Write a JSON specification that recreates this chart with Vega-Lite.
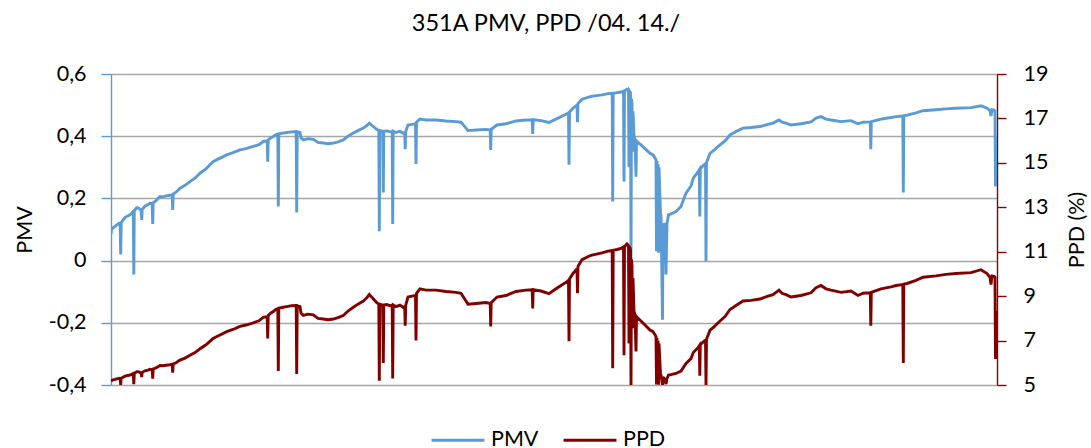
{
"$schema": "https://vega.github.io/schema/vega-lite/v6.json",
"width": 886, "height": 311,
"autosize": {"type": "none"},
"padding": {"left": 111, "top": 74, "right": 94, "bottom": 63},
"background": "white",
"config": {"font": "Lato", "view": {"stroke": null}},
"title": {"text": "351A PMV, PPD /04. 14./", "font": "Lato", "fontSize": 23.5, "fontWeight": "normal", "color": "#000000", "anchor": "middle", "baseline": "alphabetic", "offset": 9, "dx": -8},
"data": {"values": [
{"i":0,"pmv":0.085,"ppd":5.15},{"i":0.5,"pmv":0.10,"ppd":5.21},{"i":2,"pmv":0.105,"ppd":5.23},{"i":4,"pmv":0.11,"ppd":5.25},{"i":6,"pmv":0.115,"ppd":5.28},{"i":8,"pmv":0.12,"ppd":5.30},{"i":9.2,"pmv":0.118,"ppd":5.29},{"i":9.7,"pmv":0.02,"ppd":5.01},{"i":10.2,"pmv":0.122,"ppd":5.31},{"i":12,"pmv":0.13,"ppd":5.35},{"i":14,"pmv":0.138,"ppd":5.40},{"i":15.7,"pmv":0.142,"ppd":5.42},{"i":18,"pmv":0.145,"ppd":5.44},{"i":20,"pmv":0.15,"ppd":5.47},{"i":22.3,"pmv":0.158,"ppd":5.52},{"i":22.8,"pmv":-0.045,"ppd":5.04},{"i":23.3,"pmv":0.16,"ppd":5.53},{"i":25.7,"pmv":0.17,"ppd":5.60},{"i":28,"pmv":0.168,"ppd":5.59},{"i":30.2,"pmv":0.16,"ppd":5.53},{"i":30.7,"pmv":0.131,"ppd":5.36},{"i":31.2,"pmv":0.165,"ppd":5.57},{"i":34,"pmv":0.175,"ppd":5.64},{"i":37,"pmv":0.18,"ppd":5.67},{"i":39,"pmv":0.185,"ppd":5.71},{"i":41.2,"pmv":0.182,"ppd":5.69},{"i":41.7,"pmv":0.118,"ppd":5.29},{"i":42.2,"pmv":0.186,"ppd":5.72},{"i":45,"pmv":0.193,"ppd":5.77},{"i":49,"pmv":0.206,"ppd":5.88},{"i":52,"pmv":0.205,"ppd":5.87},{"i":55,"pmv":0.208,"ppd":5.89},{"i":59,"pmv":0.21,"ppd":5.91},{"i":61.2,"pmv":0.212,"ppd":5.93},{"i":61.7,"pmv":0.163,"ppd":5.55},{"i":62.2,"pmv":0.214,"ppd":5.95},{"i":65,"pmv":0.22,"ppd":6.00},{"i":69,"pmv":0.233,"ppd":6.12},{"i":74,"pmv":0.242,"ppd":6.21},{"i":79,"pmv":0.254,"ppd":6.34},{"i":84,"pmv":0.265,"ppd":6.46},{"i":89,"pmv":0.281,"ppd":6.63},{"i":95,"pmv":0.295,"ppd":6.81},{"i":102,"pmv":0.318,"ppd":7.09},{"i":108,"pmv":0.328,"ppd":7.23},{"i":115.7,"pmv":0.34,"ppd":7.40},{"i":122,"pmv":0.347,"ppd":7.50},{"i":129,"pmv":0.356,"ppd":7.64},{"i":135,"pmv":0.36,"ppd":7.70},{"i":142.3,"pmv":0.367,"ppd":7.80},{"i":148,"pmv":0.373,"ppd":7.89},{"i":152.3,"pmv":0.383,"ppd":8.05},{"i":156.2,"pmv":0.385,"ppd":8.08},{"i":156.7,"pmv":0.318,"ppd":7.09},{"i":157.2,"pmv":0.388,"ppd":8.13},{"i":160,"pmv":0.395,"ppd":8.24},{"i":162.3,"pmv":0.399,"ppd":8.31},{"i":165,"pmv":0.405,"ppd":8.41},{"i":166.8,"pmv":0.406,"ppd":8.43},{"i":167.3,"pmv":0.174,"ppd":5.63},{"i":167.8,"pmv":0.408,"ppd":8.46},{"i":172,"pmv":0.41,"ppd":8.50},{"i":175.7,"pmv":0.412,"ppd":8.53},{"i":180.7,"pmv":0.414,"ppd":8.57},{"i":185.2,"pmv":0.415,"ppd":8.58},{"i":185.7,"pmv":0.155,"ppd":5.50},{"i":186.2,"pmv":0.414,"ppd":8.57},{"i":189,"pmv":0.412,"ppd":8.53},{"i":190,"pmv":0.395,"ppd":8.24},{"i":192.3,"pmv":0.388,"ppd":8.13},{"i":197,"pmv":0.392,"ppd":8.19},{"i":202.3,"pmv":0.39,"ppd":8.16},{"i":207,"pmv":0.38,"ppd":8.00},{"i":212.3,"pmv":0.378,"ppd":7.97},{"i":217,"pmv":0.376,"ppd":7.94},{"i":222.3,"pmv":0.378,"ppd":7.97},{"i":227,"pmv":0.382,"ppd":8.03},{"i":232.3,"pmv":0.388,"ppd":8.13},{"i":237,"pmv":0.40,"ppd":8.33},{"i":242.3,"pmv":0.41,"ppd":8.50},{"i":247,"pmv":0.418,"ppd":8.64},{"i":252.3,"pmv":0.426,"ppd":8.78},{"i":256,"pmv":0.435,"ppd":8.94},{"i":258.3,"pmv":0.442,"ppd":9.07},{"i":262,"pmv":0.432,"ppd":8.89},{"i":265.7,"pmv":0.422,"ppd":8.71},{"i":267.8,"pmv":0.418,"ppd":8.64},{"i":268.3,"pmv":0.094,"ppd":5.19},{"i":268.8,"pmv":0.418,"ppd":8.64},{"i":271.8,"pmv":0.416,"ppd":8.60},{"i":272.3,"pmv":0.219,"ppd":5.99},{"i":272.8,"pmv":0.416,"ppd":8.60},{"i":275.7,"pmv":0.417,"ppd":8.62},{"i":279,"pmv":0.414,"ppd":8.57},{"i":281.2,"pmv":0.415,"ppd":8.58},{"i":281.7,"pmv":0.118,"ppd":5.29},{"i":282.2,"pmv":0.416,"ppd":8.60},{"i":285,"pmv":0.412,"ppd":8.53},{"i":289,"pmv":0.416,"ppd":8.60},{"i":292,"pmv":0.41,"ppd":8.50},{"i":293.7,"pmv":0.412,"ppd":8.53},{"i":294.2,"pmv":0.358,"ppd":7.67},{"i":294.7,"pmv":0.415,"ppd":8.58},{"i":297,"pmv":0.436,"ppd":8.96},{"i":301,"pmv":0.438,"ppd":9.00},{"i":304.5,"pmv":0.44,"ppd":9.03},{"i":305,"pmv":0.311,"ppd":7.00},{"i":305.5,"pmv":0.445,"ppd":9.13},{"i":309,"pmv":0.455,"ppd":9.33},{"i":315,"pmv":0.452,"ppd":9.27},{"i":325,"pmv":0.452,"ppd":9.27},{"i":335,"pmv":0.449,"ppd":9.21},{"i":345,"pmv":0.447,"ppd":9.17},{"i":350,"pmv":0.445,"ppd":9.13},{"i":354,"pmv":0.43,"ppd":8.85},{"i":357,"pmv":0.418,"ppd":8.64},{"i":365,"pmv":0.42,"ppd":8.67},{"i":375,"pmv":0.422,"ppd":8.71},{"i":379.2,"pmv":0.42,"ppd":8.67},{"i":379.7,"pmv":0.356,"ppd":7.64},{"i":380.2,"pmv":0.422,"ppd":8.71},{"i":386,"pmv":0.436,"ppd":8.96},{"i":395,"pmv":0.44,"ppd":9.03},{"i":405,"pmv":0.449,"ppd":9.21},{"i":415,"pmv":0.452,"ppd":9.27},{"i":421.2,"pmv":0.453,"ppd":9.29},{"i":421.7,"pmv":0.407,"ppd":8.45},{"i":422.2,"pmv":0.453,"ppd":9.29},{"i":430,"pmv":0.45,"ppd":9.23},{"i":438,"pmv":0.444,"ppd":9.11},{"i":445,"pmv":0.455,"ppd":9.33},{"i":450,"pmv":0.463,"ppd":9.48},{"i":456,"pmv":0.472,"ppd":9.65},{"i":457.5,"pmv":0.475,"ppd":9.71},{"i":458,"pmv":0.308,"ppd":6.97},{"i":458.5,"pmv":0.478,"ppd":9.77},{"i":462,"pmv":0.49,"ppd":10.02},{"i":466,"pmv":0.50,"ppd":10.23},{"i":466.5,"pmv":0.445,"ppd":9.13},{"i":467,"pmv":0.505,"ppd":10.34},{"i":471,"pmv":0.519,"ppd":10.64},{"i":480,"pmv":0.528,"ppd":10.84},{"i":491,"pmv":0.533,"ppd":10.95},{"i":497,"pmv":0.537,"ppd":11.03},{"i":501.2,"pmv":0.538,"ppd":11.06},{"i":501.7,"pmv":0.19,"ppd":5.75},{"i":502.2,"pmv":0.538,"ppd":11.06},{"i":506,"pmv":0.54,"ppd":11.10},{"i":510,"pmv":0.542,"ppd":11.15},{"i":512.5,"pmv":0.545,"ppd":11.22},{"i":513,"pmv":0.254,"ppd":6.34},{"i":513.5,"pmv":0.545,"ppd":11.22},{"i":516,"pmv":0.551,"ppd":11.35},{"i":517.5,"pmv":0.548,"ppd":11.28},{"i":518,"pmv":0.30,"ppd":6.87},{"i":518.5,"pmv":0.545,"ppd":11.22},{"i":519.5,"pmv":0.54,"ppd":11.10},{"i":520,"pmv":0.0,"ppd":5.00},{"i":520.5,"pmv":0.52,"ppd":10.66},{"i":521,"pmv":0.506,"ppd":10.36},{"i":521.5,"pmv":0.35,"ppd":7.55},{"i":522,"pmv":0.48,"ppd":9.81},{"i":523,"pmv":0.40,"ppd":8.33},{"i":524,"pmv":0.39,"ppd":8.16},{"i":525,"pmv":0.27,"ppd":6.51},{"i":525.5,"pmv":0.385,"ppd":8.08},{"i":527,"pmv":0.38,"ppd":8.00},{"i":530,"pmv":0.372,"ppd":7.88},{"i":534,"pmv":0.36,"ppd":7.70},{"i":539,"pmv":0.345,"ppd":7.47},{"i":542,"pmv":0.34,"ppd":7.40},{"i":544,"pmv":0.33,"ppd":7.26},{"i":545,"pmv":0.324,"ppd":7.18},{"i":545.5,"pmv":0.03,"ppd":5.02},{"i":546,"pmv":0.32,"ppd":7.12},{"i":546.5,"pmv":0.05,"ppd":5.05},{"i":547,"pmv":0.31,"ppd":6.99},{"i":547.5,"pmv":0.025,"ppd":5.01},{"i":548,"pmv":0.30,"ppd":6.87},{"i":549.5,"pmv":0.15,"ppd":5.47},{"i":550,"pmv":0.147,"ppd":5.45},{"i":551.5,"pmv":-0.19,"ppd":5.00},{"i":552,"pmv":0.10,"ppd":5.21},{"i":553,"pmv":0.12,"ppd":5.30},{"i":554,"pmv":0.11,"ppd":5.25},{"i":555,"pmv":-0.045,"ppd":5.04},{"i":556,"pmv":0.12,"ppd":5.30},{"i":557.5,"pmv":0.147,"ppd":5.45},{"i":560,"pmv":0.15,"ppd":5.47},{"i":565,"pmv":0.158,"ppd":5.52},{"i":570,"pmv":0.174,"ppd":5.63},{"i":575,"pmv":0.217,"ppd":5.97},{"i":580,"pmv":0.24,"ppd":6.19},{"i":582.3,"pmv":0.265,"ppd":6.46},{"i":587,"pmv":0.285,"ppd":6.68},{"i":588.3,"pmv":0.292,"ppd":6.77},{"i":588.8,"pmv":0.142,"ppd":5.42},{"i":589.3,"pmv":0.295,"ppd":6.81},{"i":592,"pmv":0.305,"ppd":6.93},{"i":594.5,"pmv":0.312,"ppd":7.02},{"i":595,"pmv":-0.003,"ppd":5.00},{"i":595.5,"pmv":0.315,"ppd":7.06},{"i":599,"pmv":0.345,"ppd":7.47},{"i":603,"pmv":0.355,"ppd":7.62},{"i":609,"pmv":0.372,"ppd":7.88},{"i":614,"pmv":0.385,"ppd":8.08},{"i":619,"pmv":0.404,"ppd":8.40},{"i":625,"pmv":0.415,"ppd":8.58},{"i":632,"pmv":0.426,"ppd":8.78},{"i":640,"pmv":0.428,"ppd":8.81},{"i":649,"pmv":0.431,"ppd":8.87},{"i":657,"pmv":0.438,"ppd":9.00},{"i":662,"pmv":0.442,"ppd":9.07},{"i":668,"pmv":0.452,"ppd":9.27},{"i":671,"pmv":0.445,"ppd":9.13},{"i":675,"pmv":0.442,"ppd":9.07},{"i":680,"pmv":0.436,"ppd":8.96},{"i":690,"pmv":0.44,"ppd":9.03},{"i":700,"pmv":0.446,"ppd":9.15},{"i":705,"pmv":0.458,"ppd":9.38},{"i":710,"pmv":0.463,"ppd":9.48},{"i":715,"pmv":0.455,"ppd":9.33},{"i":720,"pmv":0.452,"ppd":9.27},{"i":730,"pmv":0.447,"ppd":9.17},{"i":740,"pmv":0.45,"ppd":9.23},{"i":747,"pmv":0.44,"ppd":9.03},{"i":752,"pmv":0.445,"ppd":9.13},{"i":759.3,"pmv":0.446,"ppd":9.15},{"i":759.8,"pmv":0.358,"ppd":7.67},{"i":760.3,"pmv":0.447,"ppd":9.17},{"i":770,"pmv":0.455,"ppd":9.33},{"i":780,"pmv":0.46,"ppd":9.42},{"i":785,"pmv":0.463,"ppd":9.48},{"i":791.8,"pmv":0.465,"ppd":9.52},{"i":792.3,"pmv":0.219,"ppd":5.99},{"i":792.8,"pmv":0.466,"ppd":9.54},{"i":796,"pmv":0.468,"ppd":9.57},{"i":805,"pmv":0.475,"ppd":9.71},{"i":812,"pmv":0.482,"ppd":9.85},{"i":825,"pmv":0.485,"ppd":9.91},{"i":835,"pmv":0.488,"ppd":9.98},{"i":845,"pmv":0.49,"ppd":10.02},{"i":860,"pmv":0.492,"ppd":10.06},{"i":870,"pmv":0.498,"ppd":10.19},{"i":876,"pmv":0.49,"ppd":10.02},{"i":879,"pmv":0.482,"ppd":9.85},{"i":880,"pmv":0.465,"ppd":9.52},{"i":881,"pmv":0.485,"ppd":9.91},{"i":883,"pmv":0.484,"ppd":9.89},{"i":884,"pmv":0.482,"ppd":9.85},{"i":884.5,"pmv":0.238,"ppd":6.17},{"i":885,"pmv":0.40,"ppd":8.33},{"i":885.5,"pmv":0.29,"ppd":6.74},{"i":886,"pmv":0.38,"ppd":8.00}
]},
"encoding": {"x": {"field": "i", "type": "quantitative", "scale": {"domain": [0, 886], "nice": false, "zero": false}, "axis": null}},
"layer": [
 {"mark": {"type": "line", "strokeWidth": 2.9, "clip": true},
  "encoding": {
   "y": {"field": "pmv", "type": "quantitative", "scale": {"domain": [-0.4, 0.6], "nice": false, "zero": false},
     "axis": {"orient": "left", "title": "PMV", "values": [-0.4, -0.2, 0, 0.2, 0.4, 0.6],
       "labelExpr": "datum.value == 0 ? '0' : (datum.value < 0 ? '-' : '') + '0,' + round(abs(datum.value) * 10)",
       "grid": true, "gridColor": "#A6A6A6", "gridWidth": 1.4,
       "domain": true, "domainColor": "#5B9BD5", "domainWidth": 1.4,
       "ticks": true, "tickColor": "#5B9BD5", "tickSize": 10, "tickWidth": 1.4,
       "labelFont": "Lato", "labelFontSize": 21.5, "labelColor": "#000000", "labelPadding": 15,
       "titleFont": "Lato", "titleFontSize": 21.5, "titleFontWeight": "normal", "titleColor": "#000000", "titlePadding": 12}},
   "color": {"datum": "PMV", "type": "nominal", "scale": {"domain": ["PMV", "PPD"], "range": ["#5B9BD5", "#800000"]},
     "legend": {"orient": "none", "legendX": 319, "legendY": 338, "direction": "horizontal", "title": null, "symbolType": "stroke", "symbolSize": 2800, "symbolStrokeWidth": 3, "labelFont": "Lato", "labelFontSize": 21.5, "labelColor": "#000000", "labelOffset": 5, "columnPadding": 18}}
  }},
 {"mark": {"type": "line", "strokeWidth": 2.9, "clip": true},
  "encoding": {
   "y": {"field": "ppd", "type": "quantitative", "scale": {"domain": [5, 19], "nice": false, "zero": false},
     "axis": {"orient": "right", "title": "PPD (%)", "titleAngle": -90, "titleBaseline": "top", "values": [5, 7, 9, 11, 13, 15, 17, 19],
       "grid": false,
       "domain": true, "domainColor": "#8B0000", "domainWidth": 1.4,
       "ticks": true, "tickColor": "#8B0000", "tickSize": 9, "tickWidth": 1.4,
       "labelFont": "Lato", "labelFontSize": 21.5, "labelColor": "#000000", "labelPadding": 17,
       "titleFont": "Lato", "titleFontSize": 21.5, "titleFontWeight": "normal", "titleColor": "#000000", "titlePadding": 19}},
   "color": {"datum": "PPD", "type": "nominal"}
  }}
],
"resolve": {"scale": {"y": "independent"}}
}
